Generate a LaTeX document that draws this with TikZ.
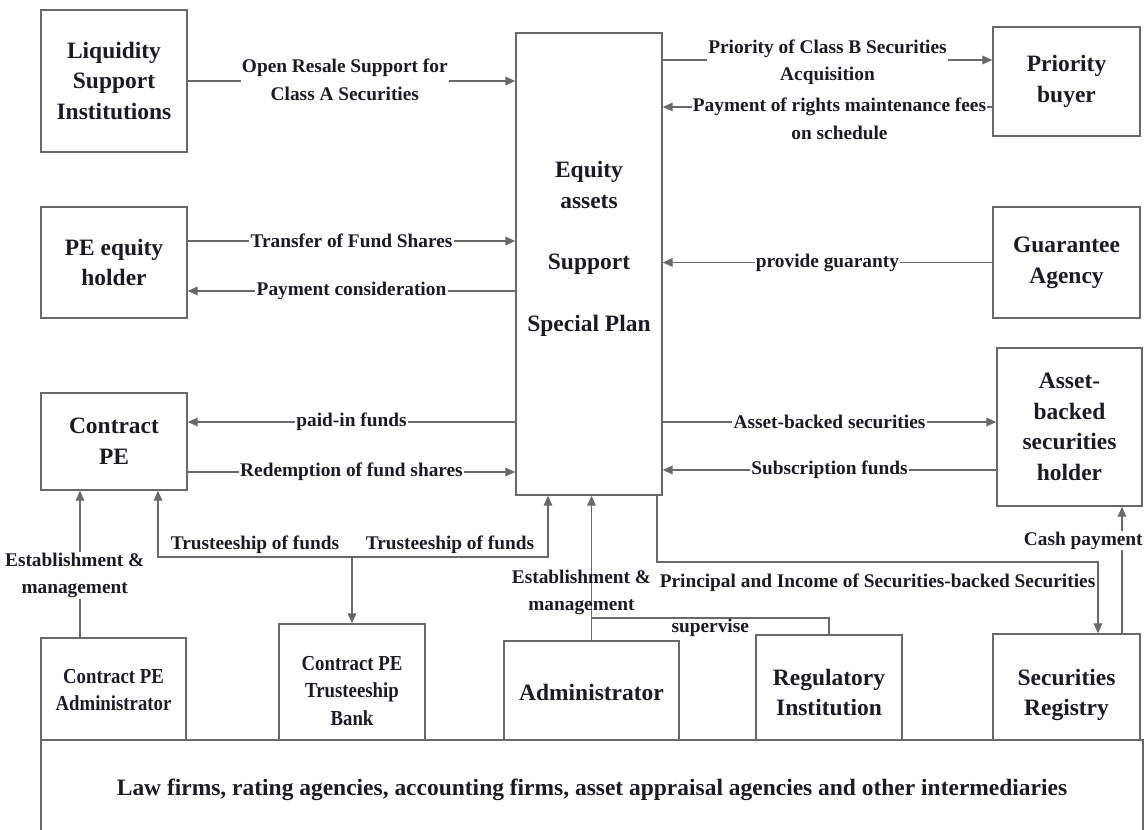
\documentclass[tikz,border=0pt]{standalone}
\usepackage{fontspec}
\setmainfont{Liberation Serif}
\newfontfamily\narrowserif{Liberation Serif}[FakeStretch=0.88]
\usepackage{tikz}
\usetikzlibrary{arrows.meta,positioning}
\definecolor{txt}{RGB}{28,26,36}
\definecolor{edge}{RGB}{105,105,105}

\begin{document}
\begin{tikzpicture}[x=0.75pt,y=-0.75pt,
box/.style={draw=edge,line width=1.1pt,align=center,text=txt,inner sep=2pt,
  font=\fontsize{17.6}{23}\selectfont\bfseries},
narrow/.style={box,font=\narrowserif\fontsize{16}{20.6}\selectfont\bfseries},
lbl/.style={fill=white,inner xsep=1pt,inner ysep=0.5pt,align=center,text=txt,
  font=\fontsize{14.5}{20.6}\selectfont\bfseries},
line/.style={draw=edge,line width=1pt},
arr/.style={line,-{Triangle[length=7.5pt,width=6.5pt]}}]
\fill[white] (0,0) rectangle (1145,830);
\useasboundingbox (0,0) rectangle (1145,830);
% outer parties
\node[box,minimum width=109.5pt,minimum height=106.5pt] (liq) at (114,81) {Liquidity\\Support\\Institutions};
\node[box,minimum width=110.25pt,minimum height=81.75pt] (buyer) at (1066.5,81.5) {Priority\\buyer};
\node[box,minimum width=109.5pt,minimum height=83.25pt] (peh) at (114,262.5) {PE equity\\holder};
\node[box,minimum width=110.25pt,minimum height=83.25pt] (guar) at (1066.5,262.5) {Guarantee\\Agency};
\node[box,minimum width=109.5pt,minimum height=72.75pt] (cpe) at (114,441.5) {Contract\\PE};
\node[box,minimum width=108.75pt,minimum height=118.5pt] (absh) at (1069.5,427) {Asset-\\backed\\securities\\holder};
% special plan
\node[box,minimum width=109.5pt,minimum height=346.5pt] (plan) at (589,264) {};
\node[box,draw=none] (plantxt) at (589,249) {Equity\\assets\\[23pt]Support\\[23pt]Special Plan};
% bottom row (lower edges hidden behind the intermediaries box)
\node[narrow,minimum width=108.75pt,minimum height=78pt] (cpea) at (113.5,690) {Contract PE\\Administrator};
\node[narrow,minimum width=109.5pt,minimum height=100.5pt] (bank) at (352,691) {Contract PE\\Trusteeship\\Bank};
\node[box,minimum width=131.25pt,minimum height=76.5pt] (admin) at (591.5,692) {Administrator};
\node[box,minimum width=109.5pt,minimum height=86.25pt] (reg) at (829,692.5) {Regulatory\\Institution};
\node[box,minimum width=110.25pt,minimum height=91.5pt] (registry) at (1066.5,695) {Securities\\Registry};
\node[box,fill=white,minimum width=826.5pt,minimum height=75pt] (inter) at (592,790) {Law firms, rating agencies, accounting firms, asset appraisal agencies and other intermediaries};
% flows left
\draw[arr] (liq.east) -- (liq.east -| plan.west) node[lbl,midway,xshift=-5pt,yshift=1pt]{Open Resale Support for\\Class A Securities};
\draw[arr] (peh.east |- 0,241) -- (plan.west |- 0,241) node[lbl,midway]{Transfer of Fund Shares};
\draw[arr] (plan.west |- 0,291) -- (peh.east |- 0,291) node[lbl,midway]{Payment consideration};
\draw[arr] (plan.west |- 0,422) -- (cpe.east |- 0,422) node[lbl,midway]{paid-in funds};
\draw[arr] (cpe.east |- 0,472) -- (plan.west |- 0,472) node[lbl,midway]{Redemption of fund shares};
% flows right
\draw[arr] (plan.east |- 0,60) -- (buyer.west |- 0,60) node[lbl,midway,yshift=-1.5pt]{Priority of Class B Securities\\Acquisition};
\draw[arr] (buyer.west |- 0,107) -- (plan.east |- 0,107) node[lbl,midway,xshift=9pt,yshift=-9pt]{Payment of rights maintenance fees\\on schedule};
\draw[arr] (guar.west) -- (guar.west -| plan.east) node[lbl,midway]{provide guaranty};
\draw[arr] (plan.east |- 0,422) -- (absh.west |- 0,422) node[lbl,midway]{Asset-backed securities};
\draw[arr] (absh.west |- 0,470) -- (plan.east |- 0,470) node[lbl,midway]{Subscription funds};
% flows bottom
\draw[arr] (80,0 |- cpea.north) -- (80,0 |- cpe.south) node[lbl,pos=0.43,xshift=-4pt,yshift=-1pt]{Establishment \&\\management};
\coordinate (tj) at (bank.north |- 0,557);
\draw[arr] (tj) -- (bank.north);
\draw[arr] (tj) -| (158,0 |- cpe.south) node[lbl,fill=none,pos=0.25,above,yshift=1.5pt]{Trusteeship of funds};
\draw[arr] (tj) -| (548,0 |- plan.south) node[lbl,fill=none,pos=0.25,above,yshift=1.5pt]{Trusteeship of funds};
\draw[arr] (admin.north) -- (admin.north |- plan.south) node[lbl,fill=none,pos=0.33,xshift=-7.5pt]{Establishment \&\\management};
\draw[line] (reg.north) |- (admin.north |- 0,618) node[lbl,fill=none,pos=0.75,below,inner ysep=0pt]{supervise};
\draw[arr] (657,0 |- plan.south) -- (657,562) -| (1098,0 |- registry.north) node[lbl,fill=none,pos=0.25,below,yshift=-8pt]{Principal and Income of Securities-backed Securities};
\draw[arr] (1122,0 |- registry.north) -- (1122,0 |- absh.south) node[lbl,pos=0.73,xshift=-29pt]{Cash payment};
\end{tikzpicture}
\end{document}
